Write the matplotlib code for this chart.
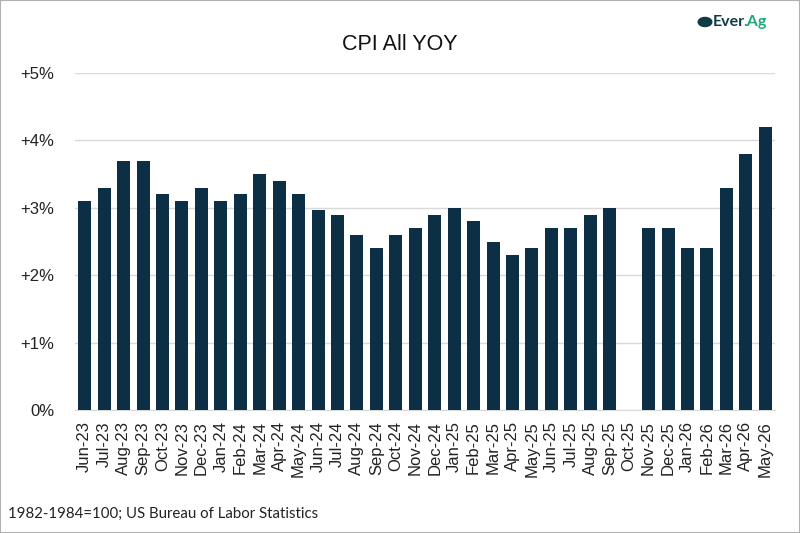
import matplotlib
matplotlib.use("Agg")
import matplotlib.pyplot as plt
from matplotlib.patches import Rectangle, Circle

months = ["Jun-23", "Jul-23", "Aug-23", "Sep-23", "Oct-23", "Nov-23", "Dec-23",
          "Jan-24", "Feb-24", "Mar-24", "Apr-24", "May-24", "Jun-24", "Jul-24",
          "Aug-24", "Sep-24", "Oct-24", "Nov-24", "Dec-24", "Jan-25", "Feb-25",
          "Mar-25", "Apr-25", "May-25", "Jun-25", "Jul-25", "Aug-25", "Sep-25",
          "Oct-25", "Nov-25", "Dec-25", "Jan-26", "Feb-26", "Mar-26", "Apr-26",
          "May-26"]
cpi_yoy = [3.1, 3.3, 3.7, 3.7, 3.2, 3.1, 3.3,
           3.1, 3.2, 3.5, 3.4, 3.2, 2.97, 2.9,
           2.6, 2.4, 2.6, 2.7, 2.9, 3.0, 2.8,
           2.5, 2.3, 2.4, 2.7, 2.7, 2.9, 3.0,
           0.0, 2.7, 2.7, 2.4, 2.4, 3.3, 3.8,
           4.2]
yticks = [0, 1, 2, 3, 4, 5]
ytick_labels = ["0%", "+1%", "+2%", "+3%", "+4%", "+5%"]

bar_color = "#0c2f45"
grid_color = "#d9d9d9"

fig = plt.figure(figsize=(8, 5.33), dpi=100)
ax = fig.add_axes([75 / 800, 1 - 410 / 533, 700 / 800, 337 / 533])

x = range(len(months))
ax.bar(x, cpi_yoy, width=0.67, color=bar_color, zorder=3)
ax.set_xlim(-0.5, len(months) - 0.5)
ax.set_ylim(0, 5)

ax.set_yticks(yticks)
ax.set_yticklabels(ytick_labels, fontsize=12, family="Liberation Sans", color="#222222")
ax.set_xticks(list(x))
ax.set_xticklabels(months, rotation=90, fontsize=12, family="Liberation Sans", color="#222222")
ax.tick_params(axis="both", length=0)
ax.tick_params(axis="y", pad=15)
ax.tick_params(axis="x", pad=8)
ax.yaxis.grid(True, color=grid_color, linewidth=1, zorder=0)
for side in ["top", "right", "left"]:
    ax.spines[side].set_visible(False)
ax.spines["bottom"].set_color(grid_color)

fig.text(0.5, 1 - 45 / 533, "CPI All YOY", ha="center", va="center",
         fontsize=15.5, family="Liberation Sans", color="#111111")
fig.text(8 / 800, 1 - 514 / 533, "1982-1984=100; US Bureau of Labor Statistics",
         ha="left", va="center", fontsize=10.8, family="Lato", color="#222222")

# logo
fig.patches.append(Circle((705 / 800, 1 - 22 / 533), 0.0085, transform=fig.transFigure,
                          color="#0f3b45", zorder=5))
t_ever = fig.text(713 / 800, 1 - 22 / 533, "Ever", ha="left", va="center", fontsize=11.5,
                  weight="bold", family="Lato", color="#0f3b45")
ax.annotate(".Ag", xy=(1, 0.5), xycoords=t_ever, xytext=(-1.5, 0),
            textcoords="offset points", ha="left", va="center",
            fontsize=11.5, weight="bold", family="Lato", color="#1fa97a",
            annotation_clip=False)

# frame
fig.patches.append(Rectangle((0, 0), 1, 1, transform=fig.transFigure, fill=False,
                             edgecolor="#b0b0b0", linewidth=1.5))

fig.savefig("out.png", dpi=100)
